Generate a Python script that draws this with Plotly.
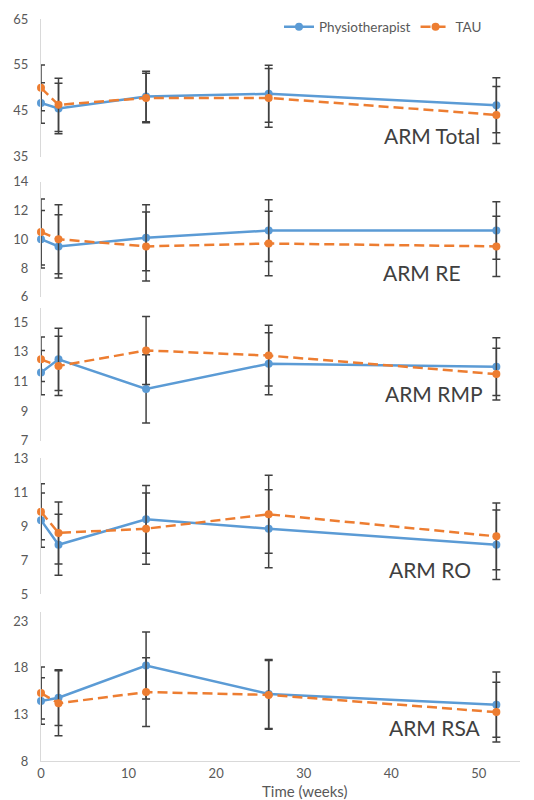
import plotly.graph_objects as go

weeks = [0, 2, 12, 26, 52]

total_phys = [46.7, 45.5, 48.1, 48.7, 46.2]
total_phys_err = [4.4, 5.5, 5.5, 6.2, 6.0]
total_tau = [50.0, 46.3, 47.8, 47.8, 44.1]
total_tau_err = [5.0, 5.8, 5.4, 6.4, 6.2]

re_phys = [10.0, 9.5, 10.1, 10.6, 10.6]
re_phys_err = [2.0, 2.2, 2.3, 2.15, 2.0]
re_tau = [10.5, 10.0, 9.5, 9.7, 9.5]
re_tau_err = [2.3, 2.4, 2.4, 2.25, 2.1]

rmp_phys = [11.6, 12.5, 10.5, 12.2, 12.0]
rmp_phys_err = [1.5, 2.1, 2.3, 2.1, 1.95]
rmp_tau = [12.5, 12.05, 13.1, 12.75, 11.5]
rmp_tau_err = [1.5, 2.0, 2.3, 2.05, 1.75]

ro_phys = [9.35, 7.9, 9.4, 8.85, 7.9]
ro_phys_err = [1.6, 1.8, 2.0, 2.3, 2.05]
ro_tau = [9.85, 8.6, 8.85, 9.7, 8.4]
ro_tau_err = [1.65, 1.83, 2.1, 2.3, 1.97]

rsa_phys = [14.45, 14.8, 18.25, 15.2, 14.05]
rsa_phys_err = [2.5, 3.0, 3.6, 3.7, 3.5]
rsa_tau = [15.3, 14.2, 15.4, 15.1, 13.25]
rsa_tau_err = [2.8, 3.5, 3.7, 3.7, 3.2]

panel_names = ["ARM Total", "ARM RE", "ARM RMP", "ARM RO", "ARM RSA"]
y_ranges = [[35, 65], [6, 14], [7, 16], [5, 13], [8, 24]]
y_ticks = [[35, 45, 55, 65], [6, 8, 10, 12, 14], [7, 9, 11, 13, 15],
           [5, 7, 9, 11, 13], [8, 13, 18, 23]]
x_ticks = [0, 10, 20, 30, 40, 50]

panels = [
    (total_phys, total_phys_err, total_tau, total_tau_err),
    (re_phys, re_phys_err, re_tau, re_tau_err),
    (rmp_phys, rmp_phys_err, rmp_tau, rmp_tau_err),
    (ro_phys, ro_phys_err, ro_tau, ro_tau_err),
    (rsa_phys, rsa_phys_err, rsa_tau, rsa_tau_err),
]

# the page body has an 8px margin; the figure is sized/placed to compensate
OFF = 8
W, H = 534 - OFF, 800 - OFF
# plot area in reference (screen) pixels
L_REF, R_REF, T_REF, B_REF = 41, 520, 10, 761
ML, MR = L_REF - OFF, W - (R_REF - OFF)
MT, MB = T_REF - OFF, H - (B_REF - OFF)
PW, PH = W - ML - MR, H - MT - MB


def px2x(px):
    return (px - OFF - ML) / PW


def py2y(py):
    return (H - MB - (py - OFF)) / PH


# vertical screen-pixel extents (top, bottom) of each panel
panel_px = [(19, 156.7), (181.7, 296.7), (307.5, 440.7), (458.3, 594), (612, 761)]
label_px = [(482, 136), (463, 273), (485, 393), (473, 570), (483, 727)]

BLUE = "#5B9BD5"
ORANGE = "#ED7D31"
ERR = "#404040"
FONT = "Lato"

fig = go.Figure()
layout = {}
annotations = []

for i, (ph, phe, ta, tae) in enumerate(panels):
    n = i + 1
    xa = "x" if n == 1 else f"x{n}"
    ya = "y" if n == 1 else f"y{n}"
    fig.add_trace(go.Scatter(
        x=weeks, y=ph, name="Physiotherapist", mode="lines+markers",
        line=dict(color=BLUE, width=2.5), marker=dict(color=BLUE, size=8),
        error_y=dict(type="data", array=phe, visible=True, color=ERR, thickness=1.5, width=4),
        xaxis=xa, yaxis=ya, showlegend=(n == 1), cliponaxis=False,
    ))
    fig.add_trace(go.Scatter(
        x=weeks, y=ta, name="TAU", mode="lines+markers",
        line=dict(color=ORANGE, width=2.5, dash="10px,5px"), marker=dict(color=ORANGE, size=8),
        error_y=dict(type="data", array=tae, visible=True, color=ERR, thickness=1.5, width=4),
        xaxis=xa, yaxis=ya, showlegend=(n == 1), cliponaxis=False,
    ))
    top, bot = panel_px[i]
    last = (n == 5)
    layout["xaxis" if n == 1 else f"xaxis{n}"] = dict(
        domain=[0, 1], anchor=ya, range=[0, 54.7], tickvals=x_ticks,
        showticklabels=last, showline=last, linecolor="#D9D9D9", linewidth=1,
        showgrid=False, zeroline=False, ticks="", automargin=False,
        tickfont=dict(family=FONT, size=13, color="#595959"),
    )
    layout["yaxis" if n == 1 else f"yaxis{n}"] = dict(
        domain=[max(0, py2y(bot)), min(1, py2y(top))], anchor=xa, range=y_ranges[i],
        tickvals=y_ticks[i], showline=True, linecolor="#D9D9D9", linewidth=1,
        showgrid=False, zeroline=False, ticks="", ticklabelstandoff=9, automargin=False,
        tickfont=dict(family=FONT, size=13, color="#595959"),
    )
    lx, ly = label_px[i]
    annotations.append(dict(
        text=panel_names[i], xref="paper", yref="paper", x=px2x(lx), y=py2y(ly),
        xanchor="right", yanchor="middle", showarrow=False,
        font=dict(family=FONT, size=21, color="#404040"),
    ))

annotations.append(dict(
    text="Time (weeks)", xref="paper", yref="paper", x=px2x(305), y=py2y(791),
    xanchor="center", yanchor="middle", showarrow=False,
    font=dict(family=FONT, size=15, color="#595959"),
))

fig.update_layout(
    **layout,
    annotations=annotations,
    width=W, height=H,
    margin=dict(l=ML, r=MR, t=MT, b=MB),
    paper_bgcolor="white", plot_bgcolor="white",
    legend=dict(orientation="h", x=px2x(279), y=py2y(27), xanchor="left", yanchor="middle",
                font=dict(family=FONT, size=13.5, color="#595959"),
                bgcolor="rgba(0,0,0,0)"),
)

fig.write_html("out.html")
